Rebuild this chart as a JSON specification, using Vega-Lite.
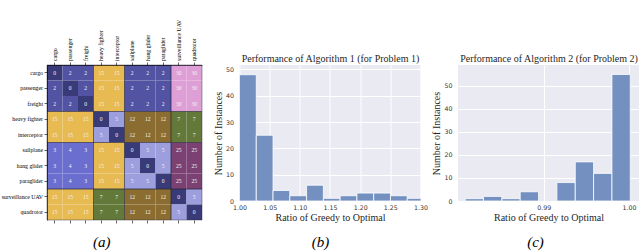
{
  "$schema": "https://vega.github.io/schema/vega-lite/v6.json",
  "background": "white",
  "padding": {"left": 1, "top": 19, "right": 0, "bottom": 0},
  "bounds": "flush",
  "spacing": 37.5,
  "config": {
    "view": {"stroke": null},
    "axis": {"labelFont": "DejaVu Sans", "titleFont": "Liberation Serif", "titleFontWeight": "normal", "labelFlush": false, "labelOverlap": false}
  },
  "datasets": {
    "matrix": [
      {"row":"cargo","col":"cargo","v":0},{"row":"cargo","col":"passenger","v":2},{"row":"cargo","col":"freight","v":2},{"row":"cargo","col":"heavy fighter","v":15},{"row":"cargo","col":"interceptor","v":15},{"row":"cargo","col":"sailplane","v":2},{"row":"cargo","col":"hang glider","v":2},{"row":"cargo","col":"paraglider","v":2},{"row":"cargo","col":"surveillance UAV","v":30},{"row":"cargo","col":"quadrotor","v":30},
      {"row":"passenger","col":"cargo","v":2},{"row":"passenger","col":"passenger","v":0},{"row":"passenger","col":"freight","v":2},{"row":"passenger","col":"heavy fighter","v":15},{"row":"passenger","col":"interceptor","v":15},{"row":"passenger","col":"sailplane","v":2},{"row":"passenger","col":"hang glider","v":2},{"row":"passenger","col":"paraglider","v":2},{"row":"passenger","col":"surveillance UAV","v":30},{"row":"passenger","col":"quadrotor","v":30},
      {"row":"freight","col":"cargo","v":2},{"row":"freight","col":"passenger","v":2},{"row":"freight","col":"freight","v":0},{"row":"freight","col":"heavy fighter","v":15},{"row":"freight","col":"interceptor","v":15},{"row":"freight","col":"sailplane","v":2},{"row":"freight","col":"hang glider","v":2},{"row":"freight","col":"paraglider","v":2},{"row":"freight","col":"surveillance UAV","v":30},{"row":"freight","col":"quadrotor","v":30},
      {"row":"heavy fighter","col":"cargo","v":15},{"row":"heavy fighter","col":"passenger","v":15},{"row":"heavy fighter","col":"freight","v":15},{"row":"heavy fighter","col":"heavy fighter","v":0},{"row":"heavy fighter","col":"interceptor","v":5},{"row":"heavy fighter","col":"sailplane","v":12},{"row":"heavy fighter","col":"hang glider","v":12},{"row":"heavy fighter","col":"paraglider","v":12},{"row":"heavy fighter","col":"surveillance UAV","v":7},{"row":"heavy fighter","col":"quadrotor","v":7},
      {"row":"interceptor","col":"cargo","v":15},{"row":"interceptor","col":"passenger","v":15},{"row":"interceptor","col":"freight","v":15},{"row":"interceptor","col":"heavy fighter","v":5},{"row":"interceptor","col":"interceptor","v":0},{"row":"interceptor","col":"sailplane","v":12},{"row":"interceptor","col":"hang glider","v":12},{"row":"interceptor","col":"paraglider","v":12},{"row":"interceptor","col":"surveillance UAV","v":7},{"row":"interceptor","col":"quadrotor","v":7},
      {"row":"sailplane","col":"cargo","v":3},{"row":"sailplane","col":"passenger","v":4},{"row":"sailplane","col":"freight","v":3},{"row":"sailplane","col":"heavy fighter","v":15},{"row":"sailplane","col":"interceptor","v":15},{"row":"sailplane","col":"sailplane","v":0},{"row":"sailplane","col":"hang glider","v":5},{"row":"sailplane","col":"paraglider","v":5},{"row":"sailplane","col":"surveillance UAV","v":25},{"row":"sailplane","col":"quadrotor","v":25},
      {"row":"hang glider","col":"cargo","v":3},{"row":"hang glider","col":"passenger","v":4},{"row":"hang glider","col":"freight","v":3},{"row":"hang glider","col":"heavy fighter","v":15},{"row":"hang glider","col":"interceptor","v":15},{"row":"hang glider","col":"sailplane","v":5},{"row":"hang glider","col":"hang glider","v":0},{"row":"hang glider","col":"paraglider","v":5},{"row":"hang glider","col":"surveillance UAV","v":25},{"row":"hang glider","col":"quadrotor","v":25},
      {"row":"paraglider","col":"cargo","v":3},{"row":"paraglider","col":"passenger","v":4},{"row":"paraglider","col":"freight","v":3},{"row":"paraglider","col":"heavy fighter","v":15},{"row":"paraglider","col":"interceptor","v":15},{"row":"paraglider","col":"sailplane","v":5},{"row":"paraglider","col":"hang glider","v":5},{"row":"paraglider","col":"paraglider","v":0},{"row":"paraglider","col":"surveillance UAV","v":25},{"row":"paraglider","col":"quadrotor","v":25},
      {"row":"surveillance UAV","col":"cargo","v":15},{"row":"surveillance UAV","col":"passenger","v":15},{"row":"surveillance UAV","col":"freight","v":15},{"row":"surveillance UAV","col":"heavy fighter","v":7},{"row":"surveillance UAV","col":"interceptor","v":7},{"row":"surveillance UAV","col":"sailplane","v":12},{"row":"surveillance UAV","col":"hang glider","v":12},{"row":"surveillance UAV","col":"paraglider","v":12},{"row":"surveillance UAV","col":"surveillance UAV","v":0},{"row":"surveillance UAV","col":"quadrotor","v":5},
      {"row":"quadrotor","col":"cargo","v":15},{"row":"quadrotor","col":"passenger","v":15},{"row":"quadrotor","col":"freight","v":15},{"row":"quadrotor","col":"heavy fighter","v":7},{"row":"quadrotor","col":"interceptor","v":7},{"row":"quadrotor","col":"sailplane","v":12},{"row":"quadrotor","col":"hang glider","v":12},{"row":"quadrotor","col":"paraglider","v":12},{"row":"quadrotor","col":"surveillance UAV","v":5},{"row":"quadrotor","col":"quadrotor","v":0}
    ],
    "blocks": [
      {"c1":"cargo","c2":"freight","r1":"cargo","r2":"freight"},
      {"c1":"heavy fighter","c2":"interceptor","r1":"cargo","r2":"freight"},
      {"c1":"sailplane","c2":"paraglider","r1":"cargo","r2":"freight"},
      {"c1":"surveillance UAV","c2":"quadrotor","r1":"cargo","r2":"freight"},
      {"c1":"cargo","c2":"freight","r1":"heavy fighter","r2":"interceptor"},
      {"c1":"heavy fighter","c2":"interceptor","r1":"heavy fighter","r2":"interceptor"},
      {"c1":"sailplane","c2":"paraglider","r1":"heavy fighter","r2":"interceptor"},
      {"c1":"surveillance UAV","c2":"quadrotor","r1":"heavy fighter","r2":"interceptor"},
      {"c1":"cargo","c2":"freight","r1":"sailplane","r2":"paraglider"},
      {"c1":"heavy fighter","c2":"interceptor","r1":"sailplane","r2":"paraglider"},
      {"c1":"sailplane","c2":"paraglider","r1":"sailplane","r2":"paraglider"},
      {"c1":"surveillance UAV","c2":"quadrotor","r1":"sailplane","r2":"paraglider"},
      {"c1":"cargo","c2":"freight","r1":"surveillance UAV","r2":"quadrotor"},
      {"c1":"heavy fighter","c2":"interceptor","r1":"surveillance UAV","r2":"quadrotor"},
      {"c1":"sailplane","c2":"paraglider","r1":"surveillance UAV","r2":"quadrotor"},
      {"c1":"surveillance UAV","c2":"quadrotor","r1":"surveillance UAV","r2":"quadrotor"}
    ],
    "hist1": [
      {"lo":1.0,"hi":1.0278,"n":48},
      {"lo":1.0278,"hi":1.0556,"n":25},
      {"lo":1.0556,"hi":1.0834,"n":4},
      {"lo":1.0834,"hi":1.1112,"n":2},
      {"lo":1.1112,"hi":1.139,"n":6},
      {"lo":1.139,"hi":1.1668,"n":1},
      {"lo":1.1668,"hi":1.1946,"n":2},
      {"lo":1.1946,"hi":1.2224,"n":3},
      {"lo":1.2224,"hi":1.2502,"n":3},
      {"lo":1.2502,"hi":1.278,"n":2},
      {"lo":1.278,"hi":1.3058,"n":1}
    ],
    "hist2": [
      {"lo":0.9808,"hi":0.98295,"n":1},
      {"lo":0.98295,"hi":0.9851,"n":2},
      {"lo":0.9851,"hi":0.98725,"n":1},
      {"lo":0.98725,"hi":0.9894,"n":4},
      {"lo":0.99155,"hi":0.9937,"n":8},
      {"lo":0.9937,"hi":0.99585,"n":17},
      {"lo":0.99585,"hi":0.998,"n":12},
      {"lo":0.998,"hi":1.00015,"n":55}
    ]
  },
  "hconcat": [
    {
      "width": 155,
      "height": 155,
      "title": {"text": "(a)", "orient": "bottom", "frame": "bounds", "anchor": "middle", "offset": 12, "font": "Liberation Serif", "fontStyle": "italic", "fontSize": 15, "fontWeight": "normal", "color": "#000"},
      "resolve": {"axis": {"x": "independent", "y": "independent"}},
      "layer": [
        {
          "data": {"name": "matrix"},
          "mark": {"type": "rect"},
          "encoding": {
            "x": {"field": "col", "type": "nominal",
              "scale": {"domain": ["cargo","passenger","freight","heavy fighter","interceptor","sailplane","hang glider","paraglider","surveillance UAV","quadrotor"], "paddingInner": 0, "paddingOuter": 0},
              "axis": {"orient": "top", "title": null, "labelAngle": 270, "labelFont": "Liberation Serif", "labelFontSize": 5.8, "labelColor": "#000", "labelPadding": 1.5, "tickSize": 3, "tickColor": "#000", "tickWidth": 0.6, "domainColor": "#000", "domainWidth": 0.6}},
            "y": {"field": "row", "type": "nominal",
              "scale": {"domain": ["cargo","passenger","freight","heavy fighter","interceptor","sailplane","hang glider","paraglider","surveillance UAV","quadrotor"], "paddingInner": 0, "paddingOuter": 0},
              "axis": {"orient": "left", "title": null, "labelFont": "Liberation Serif", "labelFontSize": 5.8, "labelColor": "#000", "labelPadding": 1.5, "tickSize": 3, "tickColor": "#000", "tickWidth": 0.6, "domainColor": "#000", "domainWidth": 0.6}},
            "color": {"field": "v", "type": "ordinal",
              "scale": {"domain": [0,2,3,4,5,7,12,15,25,30], "range": ["#393b79","#5254a3","#6b6ecf","#6b6ecf","#9c9ede","#637939","#8c6d31","#e7ba52","#7b4173","#de9ed6"]},
              "legend": null}
          }
        },
        {
          "data": {"name": "matrix"},
          "mark": {"type": "text", "font": "Liberation Serif", "fontSize": 5.6, "fill": "#f2f2f2"},
          "encoding": {
            "x": {"field": "col", "type": "nominal", "axis": null},
            "y": {"field": "row", "type": "nominal", "axis": null},
            "text": {"field": "v", "type": "quantitative"}
          }
        },
        {
          "data": {"name": "blocks"},
          "mark": {"type": "rect", "fillOpacity": 0, "stroke": "#2a2a3a", "strokeWidth": 0.6, "strokeOpacity": 0.7},
          "encoding": {
            "x": {"field": "c1", "type": "nominal", "bandPosition": 0,
              "axis": {"orient": "bottom", "labels": false, "title": null, "domain": false, "tickSize": 3, "tickColor": "#000", "tickWidth": 0.6}},
            "x2": {"field": "c2", "bandPosition": 1},
            "y": {"field": "r1", "type": "nominal", "bandPosition": 0, "axis": null},
            "y2": {"field": "r2", "bandPosition": 1}
          }
        }
      ]
    },
    {
      "width": 181,
      "height": 136,
      "view": {"fill": "#EAEAF2", "stroke": null},
      "title": {"text": "(b)", "orient": "bottom", "frame": "bounds", "anchor": "middle", "offset": 12, "font": "Liberation Serif", "fontStyle": "italic", "fontSize": 15, "fontWeight": "normal", "color": "#000"},
      "data": {"name": "hist1"},
      "resolve": {"axis": {"x": "independent", "y": "independent"}},
      "layer": [
        {
          "mark": {"type": "rect", "fill": "#7390c0", "stroke": "#ffffff", "strokeWidth": 0.8, "clip": true},
          "encoding": {
            "x": {"field": "lo", "type": "quantitative",
              "scale": {"domain": [1.0, 1.3], "nice": false, "zero": false},
              "axis": {"values": [1.0,1.05,1.1,1.15,1.2,1.25,1.3], "format": ".2f", "title": "Ratio of Greedy to Optimal", "titleFontSize": 10, "titleColor": "#262626", "titlePadding": 2.5, "labelFontSize": 6.3, "labelColor": "#333333", "labelPadding": 3, "ticks": false, "tickSize": 0, "domain": false, "gridColor": "#ffffff", "gridWidth": 1, "gridOpacity": 1}},
            "x2": {"field": "hi"},
            "y": {"field": "n", "type": "quantitative",
              "scale": {"domain": [0, 51.7], "nice": false},
              "axis": {"orient": "left", "values": [0,10,20,30,40,50], "title": "Number of Instances", "titleFontSize": 10, "titleColor": "#262626", "titlePadding": 2, "labelFontSize": 6.3, "labelColor": "#333333", "labelPadding": 6, "ticks": false, "tickSize": 0, "domain": false, "gridColor": "#ffffff", "gridWidth": 1, "gridOpacity": 1}},
            "y2": {"datum": 0}
          }
        },
        {
          "mark": {"type": "rect", "opacity": 0},
          "encoding": {
            "x": {"field": "lo", "type": "quantitative",
              "axis": {"orient": "top", "labels": false, "ticks": false, "tickSize": 0, "domain": false, "grid": false, "title": "Performance of Algorithm 1 (for Problem 1)", "titleFontSize": 10, "titleColor": "#262626", "titlePadding": 1.5}},
            "x2": {"field": "hi"},
            "y": {"field": "n", "type": "quantitative", "axis": null},
            "y2": {"datum": 0}
          }
        }
      ]
    },
    {
      "width": 181,
      "height": 136,
      "view": {"fill": "#EAEAF2", "stroke": null},
      "title": {"text": "(c)", "orient": "bottom", "frame": "bounds", "anchor": "middle", "offset": 12, "font": "Liberation Serif", "fontStyle": "italic", "fontSize": 15, "fontWeight": "normal", "color": "#000"},
      "data": {"name": "hist2"},
      "resolve": {"axis": {"x": "independent", "y": "independent"}},
      "layer": [
        {
          "mark": {"type": "rect", "fill": "#7390c0", "stroke": "#ffffff", "strokeWidth": 0.8, "clip": true},
          "encoding": {
            "x": {"field": "lo", "type": "quantitative",
              "scale": {"domain": [0.97996, 1.00117], "nice": false, "zero": false},
              "axis": {"values": [0.99, 1.0], "format": ".2f", "title": "Ratio of Greedy to Optimal", "titleFontSize": 10, "titleColor": "#262626", "titlePadding": 2.5, "labelFontSize": 6.3, "labelColor": "#333333", "labelPadding": 3, "ticks": false, "tickSize": 0, "domain": false, "gridColor": "#ffffff", "gridWidth": 1, "gridOpacity": 1}},
            "x2": {"field": "hi"},
            "y": {"field": "n", "type": "quantitative",
              "scale": {"domain": [0, 59.1], "nice": false},
              "axis": {"orient": "left", "values": [0,10,20,30,40,50], "title": "Number of Instances", "titleFontSize": 10, "titleColor": "#262626", "titlePadding": 2, "labelFontSize": 6.3, "labelColor": "#333333", "labelPadding": 6, "ticks": false, "tickSize": 0, "domain": false, "gridColor": "#ffffff", "gridWidth": 1, "gridOpacity": 1}},
            "y2": {"datum": 0}
          }
        },
        {
          "mark": {"type": "rect", "opacity": 0},
          "encoding": {
            "x": {"field": "lo", "type": "quantitative",
              "axis": {"orient": "top", "labels": false, "ticks": false, "tickSize": 0, "domain": false, "grid": false, "title": "Performance of Algorithm 2 (for Problem 2)", "titleFontSize": 10, "titleColor": "#262626", "titlePadding": 1.5}},
            "x2": {"field": "hi"},
            "y": {"field": "n", "type": "quantitative", "axis": null},
            "y2": {"datum": 0}
          }
        }
      ]
    }
  ]
}
